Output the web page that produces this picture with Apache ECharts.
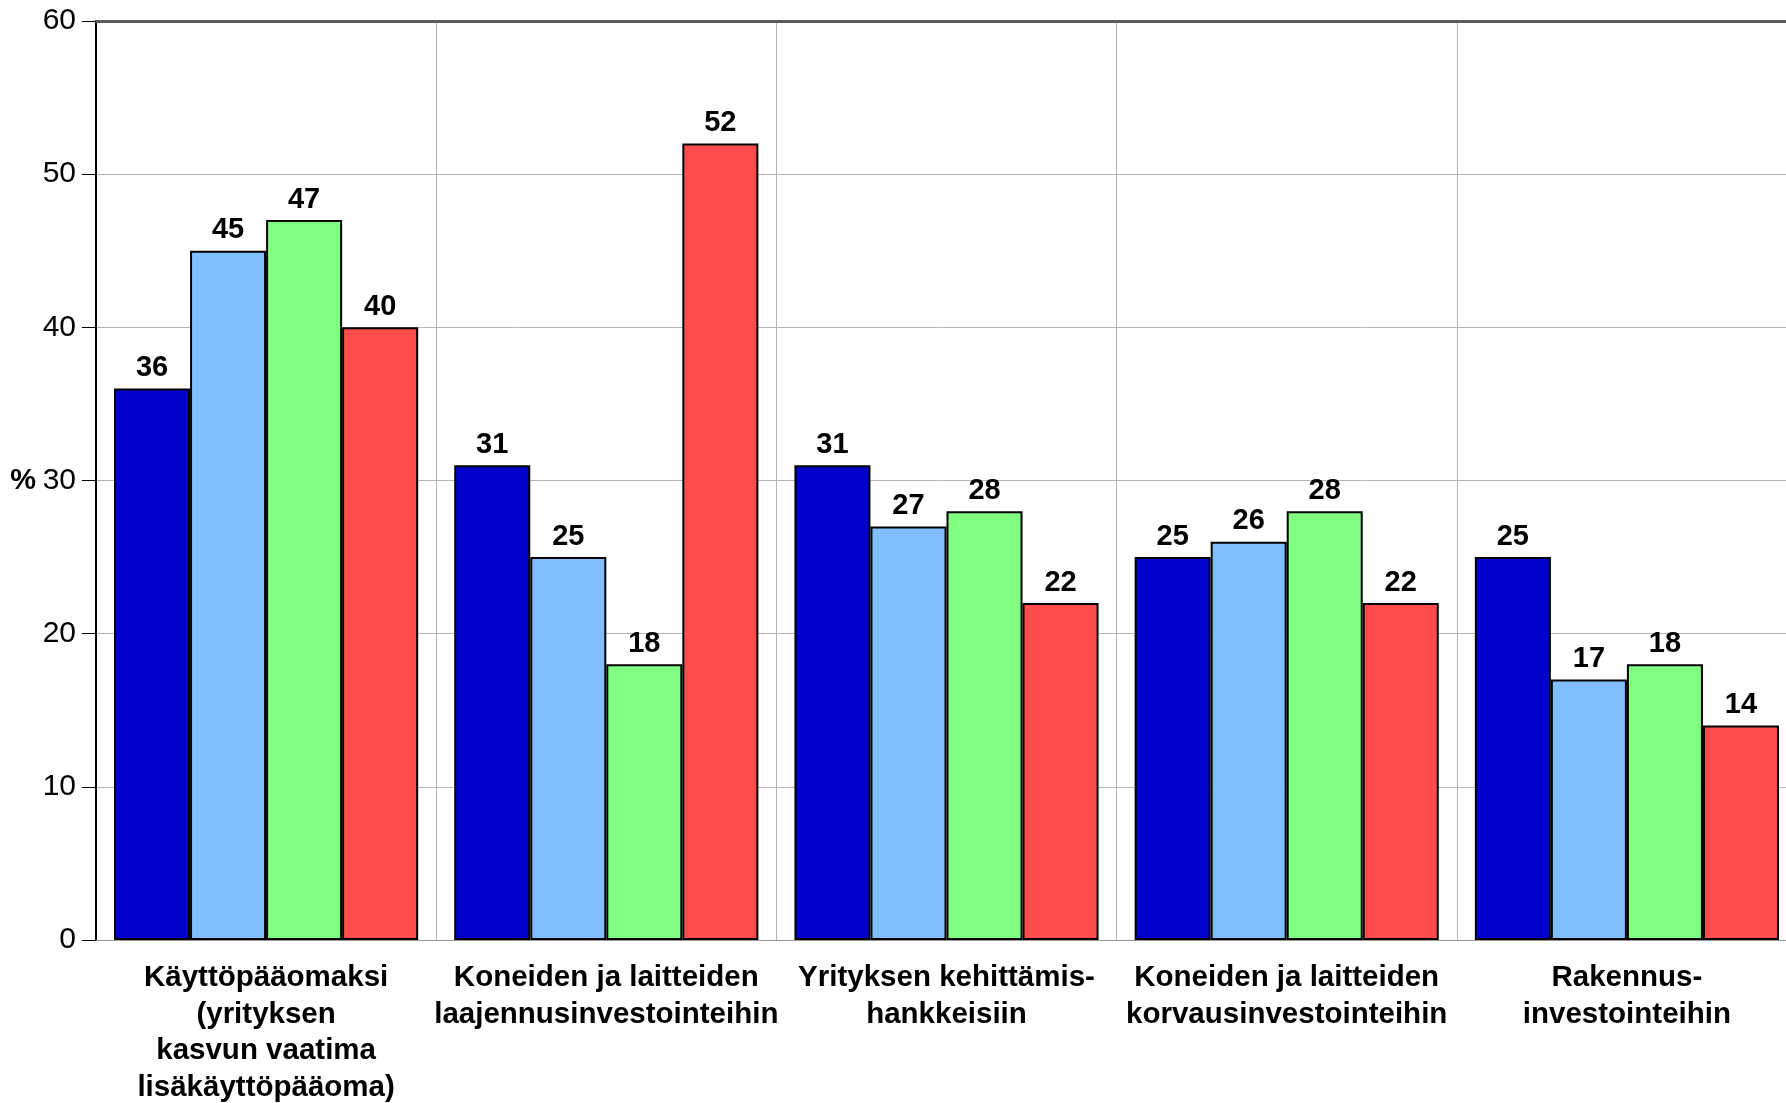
<!DOCTYPE html>
<html><head><meta charset="utf-8">
<script src="https://cdn.jsdelivr.net/npm/echarts@6/dist/echarts.min.js"></script>
<style>html,body{margin:0;padding:0;background:#fff}#c{width:1786px;height:1103px}</style>
</head><body><div id="c"></div>
<script>
const categories = [
  "Käyttöpääomaksi\n(yrityksen\nkasvun vaatima\nlisäkäyttöpääoma)",
  "Koneiden ja laitteiden\nlaajennusinvestointeihin",
  "Yrityksen kehittämis-\nhankkeisiin",
  "Koneiden ja laitteiden\nkorvausinvestointeihin",
  "Rakennus-\ninvestointeihin"
];
const series1 = [36, 31, 31, 25, 25];
const series2 = [45, 25, 27, 26, 17];
const series3 = [47, 18, 28, 28, 18];
const series4 = [40, 52, 22, 22, 14];
const colors = ["#0000cc", "#80bfff", "#80ff80", "#ff4d4d"];
const FONT = "'Liberation Sans', Arial, sans-serif";

const chart = echarts.init(document.getElementById('c'), null, {renderer: 'canvas'});
function mk(data, color) {
  return {
    type: 'bar', data: data, barGap: '0%', barCategoryGap: '10.6%',
    itemStyle: {color: color, borderColor: '#000', borderWidth: 2},
    label: {show: true, position: 'top', distance: 6, color: '#000',
      fontFamily: FONT, fontWeight: 'bold', fontSize: 29},
    animation: false
  };
}
chart.setOption({
  animation: false,
  grid: {left: 96, right: -11, top: 21, bottom: 163, containLabel: false, outerBoundsMode: 'none'},
  xAxis: [{
    type: 'category', data: categories, position: 'bottom',
    axisLine: {show: true, lineStyle: {color: '#999', width: 1}},
    axisTick: {show: false},
    splitLine: {show: true, lineStyle: {color: '#b4b4b4', width: 1}},
    axisLabel: {interval: 0, color: '#000', fontFamily: FONT, fontWeight: 'bold',
      fontSize: 29.5, lineHeight: 36.5, margin: 20, align: 'center'}
  }, {
    type: 'category', data: categories, position: 'top',
    axisLine: {show: true, lineStyle: {color: '#5a5a5a', width: 3}},
    axisTick: {show: false}, axisLabel: {show: false}, splitLine: {show: false}
  }],
  yAxis: {
    type: 'value', min: 0, max: 60, interval: 10,
    name: '%', nameLocation: 'middle', nameRotate: 0, nameGap: 60,
    nameTextStyle: {color: '#000', fontFamily: FONT, fontWeight: 'bold', fontSize: 29},
    axisLine: {show: true, lineStyle: {color: '#000', width: 2}},
    axisTick: {show: true, inside: false, length: 14, lineStyle: {color: '#000', width: 1}},
    axisLabel: {color: '#000', fontFamily: FONT, fontSize: 30, margin: 20},
    splitLine: {show: true, lineStyle: {color: '#b4b4b4', width: 1}}
  },
  series: [mk(series1, colors[0]), mk(series2, colors[1]), mk(series3, colors[2]), mk(series4, colors[3])]
});
</script></body></html>
